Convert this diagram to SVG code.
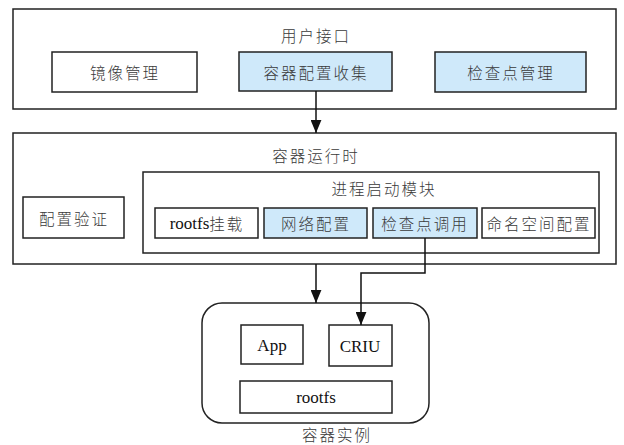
<svg xmlns="http://www.w3.org/2000/svg" width="624" height="445" viewBox="0 0 624 445">
<style>
.box{fill:#ffffff;stroke:#222;stroke-width:1.5}
.blue{fill:#cfe9fa;stroke:#222;stroke-width:1.5}
.cn{font-family:"Noto Sans CJK SC","Noto Sans",sans-serif;font-size:15.5px;font-weight:300;fill:#3a3a3a;text-anchor:middle;dominant-baseline:central;letter-spacing:2px}
.en{font-family:"Liberation Serif",serif;font-size:17px;fill:#111;text-anchor:middle;dominant-baseline:central}
.line{fill:none;stroke:#111;stroke-width:1.5}
</style>
<defs>
<marker id="arr" markerUnits="userSpaceOnUse" markerWidth="13" markerHeight="11" refX="12" refY="5" orient="auto" viewBox="0 0 12 10">
<path d="M0,0 L12,5 L0,10 Z" fill="#111"/>
</marker>
</defs>
<rect width="624" height="445" fill="#ffffff"/>
<g id="user-interface">
<rect class="box" x="13" y="9" width="603" height="100"/>
<text class="cn" x="316" y="35">用户接口</text>
</g>
<g id="image-mgmt">
<rect class="box" x="52" y="52" width="145" height="40"/>
<text class="cn" x="125" y="72">镜像管理</text>
</g>
<g id="config-collect">
<rect class="blue" x="239" y="52" width="153" height="39"/>
<text class="cn" x="316" y="72">容器配置收集</text>
</g>
<g id="checkpoint-mgmt">
<rect class="blue" x="435" y="52" width="151" height="40"/>
<text class="cn" x="511" y="72">检查点管理</text>
</g>
<g id="runtime">
<rect class="box" x="13" y="133" width="603" height="131"/>
<text class="cn" x="316" y="155">容器运行时</text>
</g>
<g id="config-verify">
<rect class="box" x="23" y="197" width="101" height="41"/>
<text class="cn" x="74" y="218">配置验证</text>
</g>
<g id="process-launch">
<rect class="box" x="143" y="172" width="456" height="81"/>
<text class="cn" x="384" y="188">进程启动模块</text>
</g>
<g id="rootfs-mount">
<rect class="box" x="155" y="208" width="103" height="30"/>
<text x="207" y="223" text-anchor="middle" dominant-baseline="central"><tspan font-family="Liberation Serif,serif" font-size="17" fill="#111">rootfs</tspan><tspan font-family="Noto Sans CJK SC,sans-serif" font-size="15.5" font-weight="300" fill="#3a3a3a" letter-spacing="2">挂载</tspan></text>
</g>
<g id="network-config">
<rect class="blue" x="264" y="208" width="103" height="30"/>
<text class="cn" x="316" y="223">网络配置</text>
</g>
<g id="checkpoint-call">
<rect class="blue" x="373" y="208" width="104" height="30"/>
<text class="cn" x="425" y="223">检查点调用</text>
</g>
<g id="namespace-config">
<rect class="box" x="482" y="208" width="113" height="30"/>
<text class="cn" x="539" y="223">命名空间配置</text>
</g>
<g id="container-instance">
<rect class="box" x="202" y="303" width="227" height="120" rx="20" ry="20"/>
<text class="cn" x="337" y="434">容器实例</text>
</g>
<g id="app">
<rect class="box" x="241" y="325" width="62" height="39"/>
<text class="en" x="272" y="345">App</text>
</g>
<g id="criu">
<rect class="box" x="329" y="325" width="63" height="41"/>
<text class="en" x="360" y="346">CRIU</text>
</g>
<g id="rootfs">
<rect class="box" x="240" y="381" width="152" height="32"/>
<text class="en" x="316" y="397">rootfs</text>
</g>
<g id="connectors">
<path class="line" d="M316,91 V133" marker-end="url(#arr)"/>
<path class="line" d="M316,264 V303" marker-end="url(#arr)"/>
<path class="line" d="M425,238 V273 H361 V325" marker-end="url(#arr)"/>
</g>
</svg>
